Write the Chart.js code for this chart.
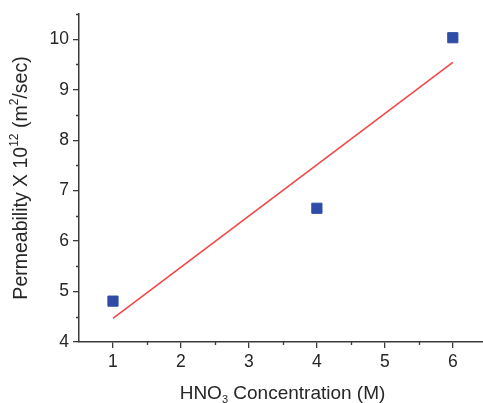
<!DOCTYPE html>
<html>
<head>
<meta charset="utf-8">
<script src="https://cdn.jsdelivr.net/npm/chart.js@4/dist/chart.umd.min.js"></script>
<style>
  html, body { margin: 0; padding: 0; background: #fff; overflow: hidden; }
  #wrap { width: 495px; height: 403px; }
</style>
</head>
<body>
<div id="wrap"><canvas id="c" width="495" height="403"></canvas></div>
<script>
// ---- data ----
const concentrations = [1, 4, 6];                 // HNO3 concentration (M)
const permeability   = [4.81, 6.65, 10.03];       // Permeability x 10^12 (m^2/sec)
const fitX = [1, 6];                              // linear fit endpoints (x)
const fitY = [4.47, 9.54];                        // linear fit endpoints (y)
const xTickValues = [1, 2, 3, 4, 5, 6];
const yTickValues = [4, 5, 6, 7, 8, 9, 10];
const xTitleParts = [{t: 'HNO'}, {t: '3', sub: true}, {t: ' Concentration (M)'}];
const yTitleParts = [{t: 'Permeability X 10'}, {t: '12', sup: true}, {t: ' (m'}, {t: '2', sup: true}, {t: '/sec)'}];

const TEXT = '#262626';
const AXIS = '#3a3a3a';
const FONT = '"Liberation Sans", Arial, sans-serif';

function drawRich(ctx, parts, size) {
  const small = Math.round(size * 0.6);
  let total = 0;
  const widths = parts.map(p => {
    ctx.font = (p.sub || p.sup ? small : size) + 'px ' + FONT;
    const w = ctx.measureText(p.t).width;
    total += w;
    return w;
  });
  let x = -total / 2;
  parts.forEach((p, i) => {
    ctx.font = (p.sub || p.sup ? small : size) + 'px ' + FONT;
    const dy = p.sub ? size * 0.22 : (p.sup ? -size * 0.45 : 0);
    ctx.fillText(p.t, x, dy);
    x += widths[i];
  });
}

const extras = {
  id: 'extras',
  afterDraw(chart) {
    const ctx = chart.ctx;
    const xs = chart.scales.x, ys = chart.scales.y;
    const area = chart.chartArea;
    ctx.save();
    ctx.strokeStyle = AXIS;
    ctx.lineWidth = 1.3;
    // minor ticks
    ctx.beginPath();
    for (let v = 1.5; v <= 6.5; v += 1) {
      const px = Math.round(xs.getPixelForValue(v)) + 0.5;
      ctx.moveTo(px, area.bottom);
      ctx.lineTo(px, area.bottom + 3);
    }
    for (let v = 4.5; v <= 10.5; v += 1) {
      const py = Math.round(ys.getPixelForValue(v)) + 0.5;
      ctx.moveTo(area.left, py);
      ctx.lineTo(area.left - 3, py);
    }
    ctx.stroke();
    // axis titles with sub/superscripts
    ctx.fillStyle = TEXT;
    ctx.textBaseline = 'alphabetic';
    ctx.textAlign = 'left';
    ctx.save();
    ctx.translate(282.5, 399);
    drawRich(ctx, xTitleParts, 19);
    ctx.restore();
    ctx.save();
    ctx.translate(27, (area.top + area.bottom) / 2);
    ctx.rotate(-Math.PI / 2);
    drawRich(ctx, yTitleParts, 19.5);
    ctx.restore();
    ctx.restore();
  }
};

new Chart(document.getElementById('c'), {
  type: 'scatter',
  data: {
    datasets: [
      {
        type: 'line',
        data: fitX.map((x, i) => ({x, y: fitY[i]})),
        borderColor: '#f04848',
        borderWidth: 1.6,
        pointRadius: 0,
        fill: false,
        order: 2
      },
      {
        data: concentrations.map((x, i) => ({x, y: permeability[i]})),
        pointStyle: 'rect',
        pointRadius: 7.2,
        pointHoverRadius: 7.2,
        backgroundColor: '#2f4ca6',
        borderColor: '#2f4ca6',
        borderWidth: 1,
        showLine: false,
        order: 1
      }
    ]
  },
  options: {
    responsive: false,
    animation: false,
    devicePixelRatio: 1,
    layout: { padding: { top: 14, right: 0.8, left: 0, bottom: 0 } },
    plugins: { legend: { display: false }, tooltip: { enabled: false } },
    scales: {
      x: {
        type: 'linear',
        min: 0.5, max: 6.5,
        afterBuildTicks: s => { s.ticks = xTickValues.map(v => ({value: v})); },
        afterFit: s => { s.height = 61; s.paddingLeft = 0; s.paddingRight = 0; },
        ticks: { color: TEXT, font: { family: FONT, size: 17.5 }, padding: 4, maxRotation: 0,
                 callback: v => String(v) },
        grid: { display: true, drawOnChartArea: false, drawTicks: true, tickLength: 6, color: AXIS, lineWidth: 1.3 },
        border: { display: true, color: AXIS, width: 1.5 }
      },
      y: {
        type: 'linear',
        min: 4, max: 10.5,
        afterBuildTicks: s => { s.ticks = yTickValues.map(v => ({value: v})); },
        afterFit: s => { s.width = 79; s.paddingTop = 0; s.paddingBottom = 0; },
        ticks: { color: TEXT, font: { family: FONT, size: 17.5 }, padding: 4,
                 callback: v => String(v) },
        grid: { display: true, drawOnChartArea: false, drawTicks: true, tickLength: 6, color: AXIS, lineWidth: 1.3 },
        border: { display: true, color: AXIS, width: 1.5 }
      }
    }
  },
  plugins: [extras]
});
</script>
</body>
</html>
